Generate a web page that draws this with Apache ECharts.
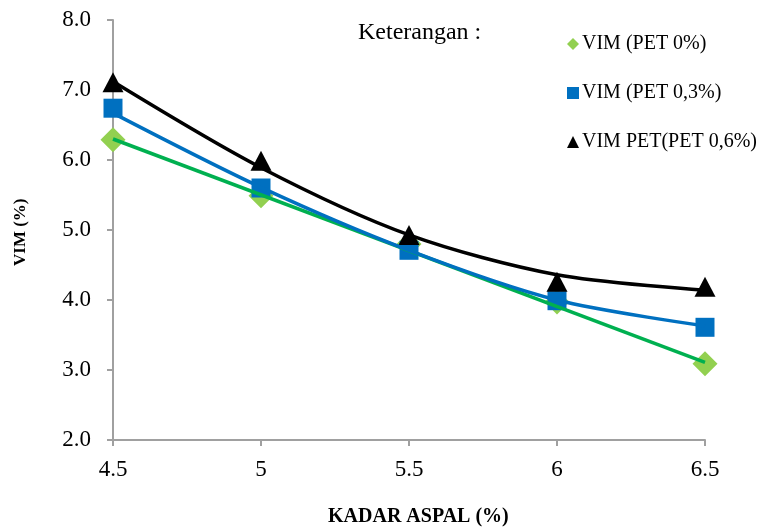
<!DOCTYPE html>
<html>
<head>
<meta charset="utf-8">
<script src="https://cdn.jsdelivr.net/npm/echarts@6/dist/echarts.min.js"></script>
<style>
  html, body { margin: 0; padding: 0; background: #fff; }
  #main { width: 772px; height: 529px; }
</style>
</head>
<body>
<div id="main"></div>
<script>
// data
var kadarAspal = [4.5, 5, 5.5, 6, 6.5];
var vimPet0 = [6.29, 5.49, 4.80, 3.97, 3.09];
var vimPet03 = [6.74, 5.60, 4.71, 3.99, 3.61];
var vimPet06 = [7.11, 5.99, 4.93, 4.26, 4.19];
// trendlines
var trendX0 = [4.5, 6.5];
var trendPet0 = [6.30, 3.11];
var trendPet03 = [6.67, 5.61, 4.71, 4.00, 3.63];
var trendPet06 = [7.12, 5.89, 4.93, 4.36, 4.14];
var seriesNames = ['VIM (PET 0%)', 'VIM (PET 0,3%)', 'VIM PET(PET 0,6%)'];

function pairs(xs, ys) {
  return xs.map(function (x, i) { return [x, ys[i]]; });
}

(function () {
  var myChart = echarts.init(document.getElementById('main'));
  var serif = '"Liberation Serif", "DejaVu Serif", serif';
  var option = {
    animation: false,
    grid: { left: 113, right: 67, top: 20, bottom: 89 },
    legend: {
      orient: 'vertical',
      left: 562,
      top: 29,
      itemGap: 29,
      itemWidth: 12,
      itemHeight: 12,
      textStyle: { fontFamily: serif, fontSize: 20, color: '#000', padding: [0, 0, 0, -2] },
      data: [
        { name: seriesNames[0], icon: 'diamond', itemStyle: { color: '#92D050' } },
        { name: seriesNames[1], icon: 'rect' },
        { name: seriesNames[2], icon: 'triangle' }
      ]
    },
    graphic: [
      { type: 'text', left: 358, top: 21, style: { text: 'Keterangan :', font: '24px ' + serif, fill: '#000' } },
      { type: 'text', left: 328, top: 507, style: { text: 'KADAR ASPAL (%)', font: 'bold 20px ' + serif, fill: '#000' } },
      { type: 'text', x: 12, y: 266, rotation: Math.PI / 2, style: { text: 'VIM (%)', font: 'bold 17px ' + serif, fill: '#000' } }
    ],
    xAxis: {
      type: 'value',
      min: 4.5,
      max: 6.5,
      interval: 0.5,
      axisLine: { lineStyle: { color: '#A0A0A0', width: 2 } },
      axisTick: { length: 6, lineStyle: { color: '#A0A0A0', width: 2 } },
      axisLabel: { margin: 18, fontFamily: serif, fontSize: 23, color: '#000' },
      splitLine: { show: false }
    },
    yAxis: {
      type: 'value',
      min: 2,
      max: 8,
      interval: 1,
      axisLine: { show: true, lineStyle: { color: '#A0A0A0', width: 2 } },
      axisTick: { show: true, length: 6, lineStyle: { color: '#A0A0A0', width: 2 } },
      axisLabel: {
        margin: 22, fontFamily: serif, fontSize: 23, color: '#000',
        formatter: function (v) { return v.toFixed(1); }
      },
      splitLine: { show: false }
    },
    series: [
      {
        name: seriesNames[0], type: 'scatter', symbol: 'diamond', symbolSize: 25,
        itemStyle: { color: '#92D050', opacity: 1 }, z: 2, data: pairs(kadarAspal, vimPet0)
      },
      {
        name: seriesNames[1], type: 'scatter', symbol: 'rect', symbolSize: 19,
        itemStyle: { color: '#0070C0', opacity: 1 }, z: 3, data: pairs(kadarAspal, vimPet03)
      },
      {
        name: seriesNames[2], type: 'scatter', symbol: 'triangle', symbolSize: [21, 20],
        itemStyle: { color: '#000', opacity: 1 }, z: 4, data: pairs(kadarAspal, vimPet06)
      },
      // trendlines
      {
        type: 'line', showSymbol: false, z: 5, lineStyle: { color: '#00B050', width: 3.5 },
        data: pairs(trendX0, trendPet0)
      },
      {
        type: 'line', showSymbol: false, smooth: 0.3, z: 5,
        lineStyle: { color: '#0070C0', width: 3.5 },
        data: pairs(kadarAspal, trendPet03)
      },
      {
        type: 'line', showSymbol: false, smooth: 0.3, z: 5,
        lineStyle: { color: '#000', width: 3.5 },
        data: pairs(kadarAspal, trendPet06)
      }
    ]
  };
  myChart.setOption(option);
})();
</script>
</body>
</html>
